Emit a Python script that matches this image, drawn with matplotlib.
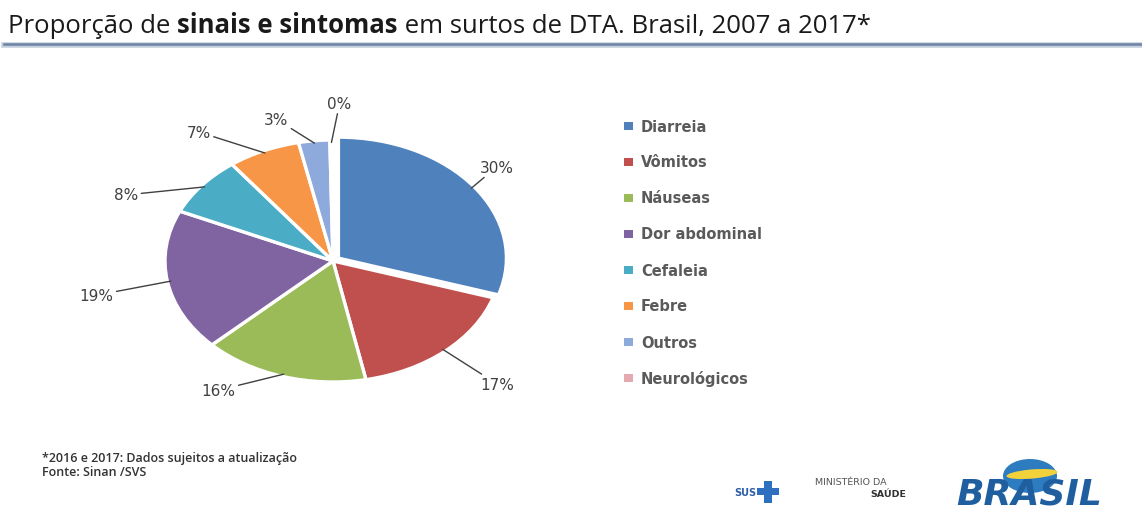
import matplotlib
matplotlib.use("Agg")
import matplotlib.pyplot as plt
from matplotlib.patches import Ellipse, Rectangle
import numpy as np

# Data
categories = ["Diarreia", "Vômitos", "Náuseas", "Dor abdominal",
              "Cefaleia", "Febre", "Outros", "Neurológicos"]
percent = [30, 17, 16, 19, 8, 7, 3, 0.3]
colors = ["#4F81BD", "#C0504D", "#9BBB59", "#8064A2",
          "#4BACC6", "#F79646", "#8EA9DB", "#E6A9B0"]
title_parts = [("Proporção de ", "normal"), ("sinais e sintomas", "bold"),
               (" em surtos de DTA. Brasil, 2007 a 2017*", "normal")]
footnotes = ["*2016 e 2017: Dados sujeitos a atualização", "Fonte: Sinan /SVS"]

W, H = 1142, 510
fig = plt.figure(figsize=(W / 100, H / 100), dpi=100)
fig.patch.set_facecolor("white")
fig.canvas.draw()
renderer = fig.canvas.get_renderer()


def fy(y_px):
    return 1 - y_px / H


# Title with a bold middle part, sized to span the header width
def draw_title(size, x0=8):
    arts, x = [], x0
    for txt, weight in title_parts:
        t = fig.text(x / W, fy(33), txt, fontsize=size, fontweight=weight,
                     family="Open Sans", color="#1a1a1a", va="baseline", ha="left")
        x = t.get_window_extent(renderer).x1
        arts.append(t)
    return arts, x - x0


arts, width = draw_title(16)
for a in arts:
    a.remove()
draw_title(min(16 * 917 / width, 18.5))

# Rule under the title
fig.add_artist(plt.Line2D([4 / W, 1], [fy(45.5)] * 2, color="#C3CEDC", lw=4.0,
                          transform=fig.transFigure))
fig.add_artist(plt.Line2D([4 / W, 1], [fy(44.5)] * 2, color="#6F84A3", lw=1.8,
                          transform=fig.transFigure))

# Pie: elliptical (horizontal radius > vertical radius)
cx, cy, rx, ry = 333, 262, 168, 121
lim = 1.3
ax = fig.add_axes([(cx - rx * lim) / W, (H - cy - ry * lim) / H,
                   2 * rx * lim / W, 2 * ry * lim / H])
explode = [0.04] + [0.0] * (len(percent) - 1)
wedges, _ = ax.pie(percent, colors=colors, startangle=90, counterclock=False,
                   explode=explode,
                   wedgeprops=dict(edgecolor="white", linewidth=2.4))
ax.set_aspect("auto")
ax.set_xlim(-lim, lim)
ax.set_ylim(-lim, lim)
ax.axis("off")

# Percentage labels with leader lines (offsets in pixels: dx, dy, ha)
label_offsets = [(8, 21, "left"), (38, -35, "left"), (-48, -16, "right"),
                 (-57, -14, "right"), (-66, -8, "right"), (-54, 21, "right"),
                 (-26, 24, "right"), (-4, 39, "left")]
total = sum(percent)
start = 90.0
for i, (val, (dx, dy, ha)) in enumerate(zip(percent, label_offsets)):
    span = 360.0 * val / total
    mid = np.deg2rad(start - span / 2)
    start -= span
    r = 0.98 + explode[i]
    ax.annotate(f"{val:.0f}%", xy=(r * np.cos(mid), r * np.sin(mid)),
                xytext=(dx * 0.72, dy * 0.72), textcoords="offset points",
                ha=ha, va="center", fontsize=11, family="DejaVu Sans",
                color="#404040",
                arrowprops=dict(arrowstyle="-", color="#404040", lw=1.0,
                                shrinkA=0, shrinkB=0))

# Legend
lx, ly0, step = 628, 127, 36
for i, (name, c) in enumerate(zip(categories, colors)):
    y = ly0 + i * step
    fig.add_artist(Rectangle(((lx - 4) / W, fy(y + 4)), 9 / W, 8 / H,
                             transform=fig.transFigure, facecolor=c, edgecolor="none"))
    fig.text((lx + 13) / W, fy(y), name, fontsize=10.5, fontweight="bold",
             family="DejaVu Sans", color="#5a5a5a", va="center", ha="left")

# Footnotes
for i, line in enumerate(footnotes):
    fig.text(42 / W, fy(459 + 13 * i), line, fontsize=9, family="Open Sans",
             fontweight="semibold", color="#333333", va="center", ha="left")

# Logos at the bottom right
fig.text(734 / W, fy(493), "SUS", fontsize=7, fontweight="bold",
         family="DejaVu Sans", color="#2F5FA8", va="center", ha="left")
fig.add_artist(Rectangle((757 / W, fy(496)), 22 / W, 7 / H,
                         transform=fig.transFigure, facecolor="#2F6FC0", edgecolor="none"))
fig.add_artist(Rectangle((764 / W, fy(504)), 8 / W, 22 / H,
                         transform=fig.transFigure, facecolor="#2F6FC0", edgecolor="none"))
fig.text(815 / W, fy(483), "MINISTÉRIO DA", fontsize=6.8, family="DejaVu Sans",
         color="#555555", va="center", ha="left")
fig.text(906 / W, fy(495), "SAÚDE", fontsize=6.8, fontweight="bold",
         family="DejaVu Sans", color="#333333", va="center", ha="right")
fig.add_artist(Ellipse((1030 / W, fy(477)), 54 / W, 34 / H,
                       transform=fig.transFigure, facecolor="#2E7CC0", edgecolor="none"))
fig.add_artist(Ellipse((1032 / W, fy(475)), 52 / W, 9 / H, angle=12,
                       transform=fig.transFigure, facecolor="#F2D23A", edgecolor="none"))
fig.text(1029 / W, fy(495), "BRASIL", fontsize=26, fontweight="heavy",
         fontstyle="italic", family="DejaVu Sans", color="#1F5FA0",
         va="center", ha="center")

fig.savefig("out.png", dpi=100, facecolor="white")
